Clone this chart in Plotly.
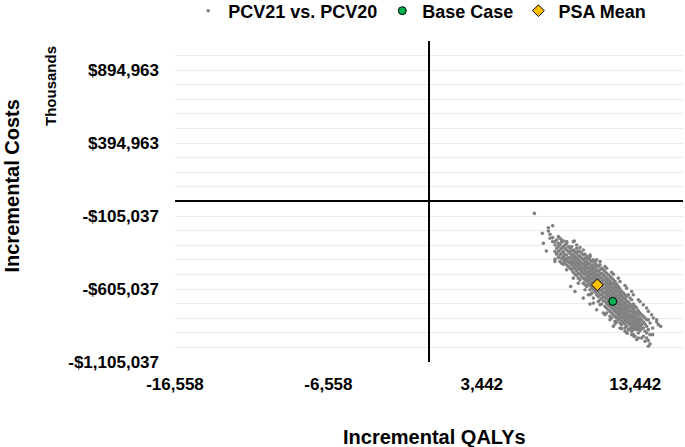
import plotly.graph_objects as go

# --- PSA cloud: one QALY value per column, costs ($) in that column ---
psa_qaly_cols = [
    6867, 7389, 7649, 7780, 7888, 8062, 8214, 8323, 8432, 8540,
    8649, 8758, 8866, 8975, 9084, 9192, 9301, 9410, 9518, 9627,
    9735, 9844, 9953, 10061, 10170, 10279, 10387, 10496, 10605, 10713,
    10822, 10931, 11039, 11148, 11257, 11365, 11474, 11583, 11691, 11800,
    11909, 12017, 12126, 12234, 12343, 12452, 12560, 12669, 12778, 12886,
    12995, 13104, 13212, 13321, 13430, 13538, 13647, 13756, 13864, 13973,
    14082, 14190, 14299, 14407, 14581, 14951, 15103,
]

psa_cost_cols = [
    [-86700],
    [-223300],
    [-343900],
    [-184600, -207300],
    [-230100, -257400],
    [-171000, -252900, -280200],
    [-280200, -302900, -348500, -400800, -416700],
    [-268800, -325700, -366700],
    [-246000, -291600, -314300, -348500, -389400],
    [-257400, -302900, -337100, -371200, -416700],
    [-268800, -284700, -325700, -359800, -394000],
    [-275600, -314300, -348500, -382600, -405400, -434900],
    [-302900, -325700, -366700, -394000, -421300],
    [-291600, -337100, -371200, -405400, -439500],
    [-314300, -348500, -389400, -416700, -450900],
    [-325700, -359800, -394000, -428100, -462300],
    [-314300, -343900, -375800, -412200, -439500, -473600],
    [-280200, -337100, -366700, -394000, -428100, -457700, -489600],
    [-348500, -382600, -412200, -439500, -466800, -503200],
    [-325700, -359800, -394000, -421300, -450900, -480500, -512300],
    [-343900, -375800, -405400, -434900, -462300, -496400, -530500],
    [-348500, -382600, -416700, -444000, -473600, -503200, -541900],
    [-359800, -394000, -428100, -457700, -485000, -519200],
    [-371200, -405400, -434900, -466800, -496400, -530500, -564700],
    [-366700, -394000, -421300, -450900, -480500, -507800, -541900, -576100],
    [-382600, -412200, -439500, -466800, -496400, -526000, -553300, -587400],
    [-394000, -428100, -457700, -485000, -512300, -541900, -571500, -644300],
    [-405400, -434900, -466800, -496400, -526000, -553300, -580600, -610200],
    [-416700, -450900, -480500, -507800, -535100, -564700, -594300, -633000],
    [-405400, -439500, -466800, -496400, -526000, -553300, -580600, -610200, -667100],
    [-421300, -457700, -485000, -512300, -541900, -571500, -598800, -626100],
    [-439500, -473600, -503200, -530500, -557800, -587400, -617000, -644300, -746800],
    [-450900, -485000, -512300, -541900, -571500, -598800, -626100, -655700, -689900],
    [-439500, -473600, -503200, -530500, -557800, -587400, -617000, -644300, -678500],
    [-462300, -496400, -526000, -553300, -580600, -610200, -639800, -667100, -708100],
    [-473600, -507800, -541900, -571500, -598800, -626100, -655700, -685300, -769500],
    [-485000, -519200, -548700, -576100, -603400, -633000, -662500, -689900, -724000, -780900],
    [-496400, -530500, -557800, -587400, -617000, -644300, -671600, -701200, -735400],
    [-507800, -541900, -571500, -598800, -626100, -655700, -685300, -712600, -746800],
    [-519200, -553300, -580600, -610200, -639800, -667100, -694400, -724000, -758100, -792300],
    [-530500, -564700, -594300, -621600, -648900, -678500, -708100, -735400, -769500, -803700],
    [-541900, -571500, -603400, -633000, -662500, -689900, -717200, -746800, -780900, -860600],
    [-553300, -587400, -617000, -644300, -671600, -701200, -730800, -758100, -792300, -826400],
    [-571500, -598800, -626100, -655700, -685300, -712600, -739900, -769500, -803700, -831000],
    [-587400, -617000, -644300, -671600, -701200, -730800, -758100, -785400, -815000],
    [-603400, -633000, -662500, -689900, -717200, -746800, -776300, -803700, -837800],
    [-621600, -648900, -678500, -708100, -735400, -762700, -792300, -821900, -849200],
    [-633000, -662500, -689900, -717200, -746800, -776300, -803700, -831000],
    [-644300, -671600, -701200, -730800, -758100, -785400, -815000, -844600, -871900],
    [-655700, -685300, -712600, -739900, -769500, -799100, -826400, -860600, -906100],
    [-644300, -694400, -724000, -753600, -780900, -808200, -837800, -883300],
    [-667100, -708100, -735400, -762700, -792300, -821900, -849200, -876500],
    [-678500, -724000, -753600, -780900, -808200, -837800, -867400, -894700],
    [-708100, -739900, -769500, -799100, -826400, -853700, -883300, -917500],
    [-724000, -758100, -785400, -815000, -844600, -871900, -928800],
    [-735400, -769500, -803700, -831000, -860600, -883300],
    [-753600, -785400, -815000, -844600, -876500, -906100],
    [-769500, -803700, -831000, -860600, -890100],
    [-780900, -815000, -849200, -876500],
    [-792300, -831000, -871900, -928800],
    [-803700, -844600, -894700],
    [-815000, -860600, -906100, -940200],
    [-815000, -883300, -958400, -997100],
    [-837800, -917500, -981200],
    [-871900, -917500],
    [-849200],
    [-860600],
]

# scattered PSA points along the edges of the cloud
psa_edge_qalys = [
    7454, 9236, 9518, 10061, 10496, 12560, 12930, 13364, 13864, 13538,
    9475, 9844, 10496, 10931, 11474, 11909, 12343, 12778, 13212, 13647,
    13973, 14299, 14625, 14842,
    8649, 8975, 9410, 9735, 10170, 10496, 10713, 11148, 11583, 11800,
    12126, 12452, 12778, 13212, 13647, 14082,
    8975, 9627, 10061, 10496, 11148, 11583, 12017, 12452, 12886, 13321,
    13756, 14190, 14516, 14842,
]
psa_edge_costs = [
    -291600, -587400, -621600, -667100, -708100, -876500, -906100, -928800, -940200, -951600,
    -275600, -321100, -371200, -405400, -450900, -489600, -530500, -580600, -621600, -678500,
    -712600, -758100, -803700, -831000,
    -428100, -473600, -530500, -564700, -610200, -644300, -701200, -712600, -769500, -815000,
    -844600, -871900, -894700, -917500, -940200, -963000,
    -280200, -302900, -337100, -382600, -416700, -462300, -503200, -553300, -598800, -644300,
    -689900, -735400, -780900, -815000,
]

base_case_qaly = [11977]
base_case_cost = [-689600]
psa_mean_qaly = [10973]
psa_mean_cost = [-576300]

x_ticks = [-16558, -6558, 3442, 13442]
y_ticks = [-1105037, -605037, -105037, 394963, 894963]
x_range = [-16558, 16558]
y_range = [-1105037, 1094963]

# flatten the columns into plain point lists
psa_qalys = [q for q, col in zip(psa_qaly_cols, psa_cost_cols) for _ in col] + psa_edge_qalys
psa_costs = [c for col in psa_cost_cols for c in col] + psa_edge_costs


def fmt_num(v):
    return ("-" if v < 0 else "") + f"{abs(v):,}"


def fmt_money(v):
    return ("-" if v < 0 else "") + f"${abs(v):,}"


fig = go.Figure()

fig.add_trace(go.Scatter(
    x=psa_qalys, y=psa_costs, mode="markers", name="PCV21 vs. PCV20",
    marker=dict(color="#808080", size=3.6, line=dict(width=0)),
))
fig.add_trace(go.Scatter(
    x=base_case_qaly, y=base_case_cost, mode="markers", name="Base Case",
    marker=dict(color="#00b050", size=8, symbol="circle", line=dict(color="black", width=1)),
))
fig.add_trace(go.Scatter(
    x=psa_mean_qaly, y=psa_mean_cost, mode="markers", name="PSA Mean",
    marker=dict(color="#ffc000", size=9, symbol="diamond", line=dict(color="black", width=1)),
))

grid_col = "#ebebeb"

fig.update_xaxes(
    range=x_range, tickmode="array", tickvals=x_ticks,
    ticktext=[fmt_num(v) for v in x_ticks],
    showgrid=False, showline=False, ticks="",
    zeroline=True, zerolinecolor="black", zerolinewidth=2,
    ticklabelstandoff=10,
)
fig.update_yaxes(
    range=y_range, tickmode="array", tickvals=y_ticks,
    ticktext=[fmt_money(v) for v in y_ticks],
    showgrid=True, gridcolor=grid_col, gridwidth=1,
    minor=dict(tickmode="array", tickvals=list(range(-1005037, 1094964, 100000)),
               showgrid=True, gridcolor=grid_col, gridwidth=1),
    showline=False, ticks="",
    zeroline=True, zerolinecolor="black", zerolinewidth=2,
    ticklabelstandoff=15,
)

fig.update_layout(
    width=685, height=447,
    margin=dict(l=175, r=2, t=41, b=85, autoexpand=False),
    paper_bgcolor="white", plot_bgcolor="white",
    font=dict(family="Liberation Sans, Arial, sans-serif", size=17, color="black", weight="bold"),
    showlegend=True,
    legend=dict(
        orientation="h", x=0.026, xanchor="left", y=1.0935, yanchor="middle",
        font=dict(size=18, weight="bold"), bgcolor="rgba(0,0,0,0)",
    ),
    annotations=[
        dict(text="Incremental Costs", xref="paper", yref="paper", x=-0.32, y=0.548,
             textangle=-90, showarrow=False, font=dict(size=20, weight="bold"),
             xanchor="center", yanchor="middle"),
        dict(text="Thousands", xref="paper", yref="paper", x=-0.244, y=0.86,
             textangle=-90, showarrow=False, font=dict(size=15, weight="bold"),
             xanchor="center", yanchor="middle"),
        dict(text="Incremental QALYs", xref="paper", yref="paper", x=0.51, y=-0.2336,
             showarrow=False, font=dict(size=20, weight="bold"),
             xanchor="center", yanchor="middle"),
    ],
)

# the page's default body margin would shift the figure by 8px
fig.write_html("out.html", config={"displayModeBar": False},
               post_script="document.body.style.margin='0';")
